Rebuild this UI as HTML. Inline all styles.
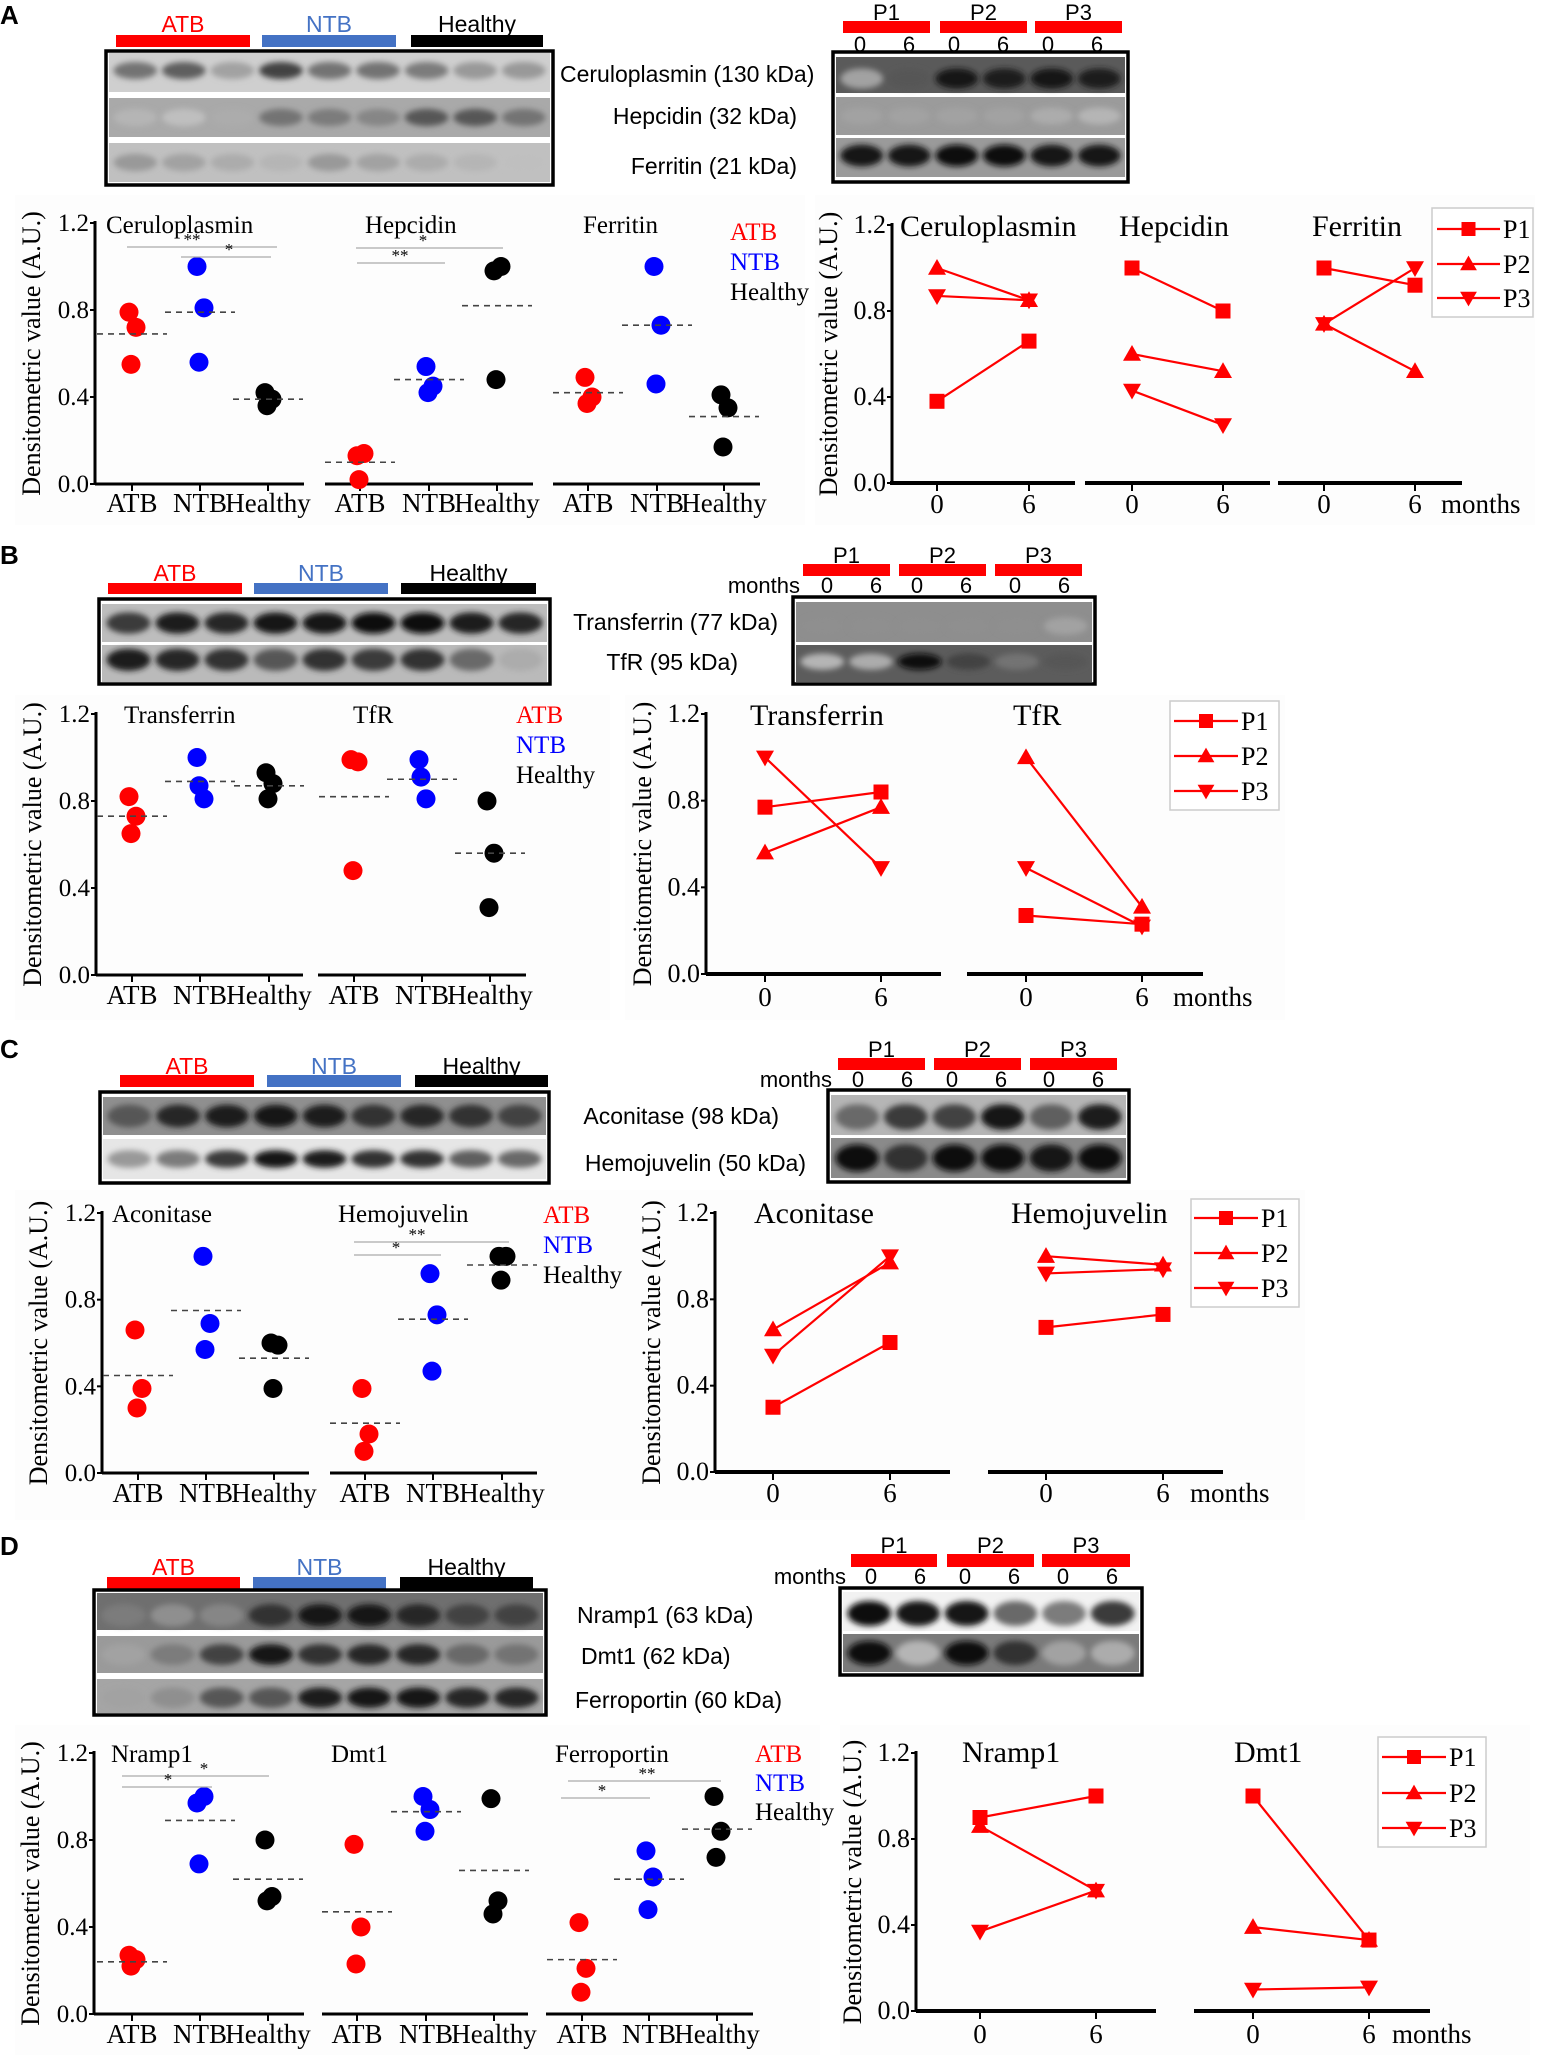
<!DOCTYPE html>
<html><head><meta charset="utf-8"><style>
html,body{margin:0;padding:0;background:#fff;}
svg{display:block;}
</style></head><body>
<svg id="fig" width="1550" height="2061" viewBox="0 0 1550 2061" xmlns="http://www.w3.org/2000/svg">
<defs><filter id="blur" x="-30%" y="-60%" width="160%" height="220%"><feGaussianBlur stdDeviation="3"/></filter></defs>
</svg>
<script>
// ---------- DATA ----------
const groups = ['ATB','NTB','Healthy'];
const yTicks = [0,0.4,0.8,1.2];
const yTickLabels = ['0.0','0.4','0.8','1.2'];
const xMonths = ['0','6'];
const patients = ['P1','P2','P3'];
// scatter values: [ATB],[NTB],[Healthy]
const ceruloVals = [[0.79,0.72,0.55],[1.0,0.81,0.56],[0.42,0.39,0.36]];
const ceruloMeans = [0.69,0.79,0.39];
const hepcidinVals = [[0.13,0.14,0.02],[0.54,0.45,0.42],[0.98,1.0,0.48]];
const hepcidinMeans = [0.10,0.48,0.82];
const ferritinVals = [[0.49,0.40,0.37],[1.0,0.73,0.46],[0.41,0.35,0.17]];
const ferritinMeans = [0.42,0.73,0.31];
const transferrinVals = [[0.82,0.73,0.65],[1.0,0.81,0.87],[0.93,0.88,0.81]];
const transferrinMeans = [0.73,0.89,0.87];
const tfrVals = [[0.99,0.98,0.48],[0.99,0.81,0.91],[0.80,0.56,0.31]];
const tfrMeans = [0.82,0.90,0.56];
const aconitaseVals = [[0.66,0.39,0.30],[1.0,0.69,0.57],[0.60,0.59,0.39]];
const aconitaseMeans = [0.45,0.75,0.53];
const hemojuvelinVals = [[0.39,0.18,0.10],[0.92,0.73,0.47],[1.0,1.0,0.89]];
const hemojuvelinMeans = [0.23,0.71,0.96];
const nramp1Vals = [[0.27,0.25,0.22],[0.97,1.0,0.69],[0.80,0.54,0.52]];
const nramp1Means = [0.24,0.89,0.62];
const dmt1Vals = [[0.78,0.40,0.23],[1.0,0.94,0.84],[0.99,0.52,0.46]];
const dmt1Means = [0.47,0.93,0.66];
const ferroportinVals = [[0.42,0.21,0.10],[0.75,0.63,0.48],[1.0,0.84,0.72]];
const ferroportinMeans = [0.25,0.62,0.85];
// paired values [P1],[P2],[P3] at 0 and 6 months
const ceruloPaired = [[0.38,0.66],[1.0,0.85],[0.87,0.85]];
const hepcidinPaired = [[1.0,0.80],[0.60,0.52],[0.43,0.27]];
const ferritinPaired = [[1.0,0.92],[0.74,0.52],[0.74,1.0]];
const transferrinPaired = [[0.77,0.84],[0.56,0.77],[1.0,0.49]];
const tfrPaired = [[0.27,0.23],[1.0,0.31],[0.49,0.22]];
const aconitasePaired = [[0.30,0.60],[0.66,0.97],[0.54,1.0]];
const hemojuvelinPaired = [[0.67,0.73],[1.0,0.96],[0.92,0.94]];
const nramp1Paired = [[0.90,1.0],[0.86,0.56],[0.37,0.56]];
const dmt1Paired = [[1.0,0.33],[0.39,0.33],[0.10,0.11]];

// ---------- helpers ----------
const NS='http://www.w3.org/2000/svg';
const svg=document.getElementById('fig');
function mk(tag,attrs,parent){const e=document.createElementNS(NS,tag);for(const k in attrs)e.setAttribute(k,attrs[k]);(parent||svg).appendChild(e);return e;}
function txt(x,y,s,size,opts,parent){opts=opts||{};const t=mk('text',{x:x,y:y,'font-size':size,fill:opts.fill||'#000','text-anchor':opts.anchor||'start','font-family':opts.sans?'"Liberation Sans",sans-serif':'"Liberation Serif",serif'},parent);if(opts.weight)t.setAttribute('font-weight',opts.weight);if(opts.transform)t.setAttribute('transform',opts.transform);t.textContent=s;return t;}
const gColors=['#ff0000','#0000ff','#000000'];
const hdrColors=['#ff0000','#4472c4','#000000'];
const hdrText=['#ff0000','#4472c4','#000000'];

function marker(g,type,x,y,s){
  let e;
  if(type===0) e=mk('rect',{x:x-s/2,y:y-s/2,width:s,height:s,fill:'#ff0000'},g);
  else if(type===1) e=mk('polygon',{points:`${x},${y-s*0.6} ${x+s*0.6},${y+s*0.45} ${x-s*0.6},${y+s*0.45}`,fill:'#ff0000'},g);
  else e=mk('polygon',{points:`${x},${y+s*0.6} ${x+s*0.6},${y-s*0.45} ${x-s*0.6},${y-s*0.45}`,fill:'#ff0000'},g);
  return e;
}

function yAxis(g,ax,y0,y12,name,big){
  const ys=v=>y0-v/1.2*(y0-y12);
  const l=mk('line',{x1:ax,y1:y12-2,x2:ax,y2:y0+1,stroke:'#000','stroke-width':3},g);
  
  
  yTicks.forEach((v,i)=>{
    mk('line',{x1:ax-5,y1:ys(v),x2:ax,y2:ys(v),stroke:'#000','stroke-width':2},g);
    const t=txt(ax-6,ys(v)+8,yTickLabels[i],big?26:25,{anchor:'end'},g);
    
    
  });
  const yt=txt(0,0,'Densitometric value (A.U.)',26,{anchor:'middle',transform:`translate(${ax-55},${(y0+y12)/2}) rotate(-90)`},g);
  
  
  return ys;
}

function scatterPanel(cfg){
  const g=mk('g',{});
  
  
  mk('rect',{x:cfg.bg[0],y:cfg.bg[1],width:cfg.bg[2],height:cfg.bg[3],fill:'#fdfdfd'},g);
  const ys=yAxis(g,cfg.ax,cfg.y0,cfg.y12,cfg.name,false);
  cfg.segs.forEach((sg,si)=>{
    const xa=mk('line',{x1:sg.x1,y1:cfg.y0,x2:sg.x2,y2:cfg.y0,stroke:'#000','stroke-width':3},g);
    
    
    const tt=txt(sg.tx,cfg.titleY,sg.title,25,{},g);
    
    
    const vals=sg.vals, means=sg.means;
    groups.forEach((gr,gi)=>{
      const cx=sg.ticks[gi];
      mk('line',{x1:cx,y1:cfg.y0,x2:cx,y2:cfg.y0+7,stroke:'#000','stroke-width':2},g);
      const xl=txt(cx,cfg.xlabY,gr,27,{anchor:'middle'},g);
      
      
      const jit=[-3,4,-1];
      vals[gi].forEach((v,k)=>{
        const d=mk('circle',{cx:cx+jit[k],cy:ys(v),r:9.5,fill:gColors[gi]},g);
        
        
      });
      const m=mk('line',{x1:cx-35,y1:ys(means[gi]),x2:cx+35,y2:ys(means[gi]),stroke:'#444','stroke-width':1.6,'stroke-dasharray':'6,5'},g);
      
      
    });
    (sg.sig||[]).forEach(s=>{
      mk('line',{x1:s[0],y1:s[2],x2:s[1],y2:s[2],stroke:'#aaa','stroke-width':1.3},g);
      txt(s[3],s[2]-2,s[4],17,{anchor:'middle'},g);
    });
  });
  groups.forEach((gr,gi)=>{
    const t=txt(cfg.legX,cfg.legY[gi],gr,25,{fill:gColors[gi]},g);
    
    
  });
}

function linePanel(cfg){
  const g=mk('g',{});
  
  
  mk('rect',{x:cfg.bg[0],y:cfg.bg[1],width:cfg.bg[2],height:cfg.bg[3],fill:'#fdfdfd'},g);
  const ys=yAxis(g,cfg.ax,cfg.y0,cfg.y12,cfg.name,true);
  cfg.segs.forEach(sg=>{
    const xa=mk('line',{x1:sg.x1,y1:cfg.y0,x2:sg.x2,y2:cfg.y0,stroke:'#000','stroke-width':4},g);
    
    
    const tt=txt(sg.tx,cfg.titleY,sg.title,30,{},g);
    
    
    xMonths.forEach((m,i)=>{
      mk('line',{x1:sg.ticks[i],y1:cfg.y0,x2:sg.ticks[i],y2:cfg.y0+8,stroke:'#000','stroke-width':2},g);
      const xl=txt(sg.ticks[i],cfg.xlabY,m,27,{anchor:'middle'},g);
      
      
    });
    sg.vals.forEach((pv,pi)=>{
      const ln=mk('line',{x1:sg.ticks[0],y1:ys(pv[0]),x2:sg.ticks[1],y2:ys(pv[1]),stroke:'#ff0000','stroke-width':2.2},g);
      
      
      pv.forEach((v,i)=>{
        const mm=marker(g,pi,sg.ticks[i],ys(v),15);
        
        
      });
    });
  });
  const mo=txt(cfg.monthsX,cfg.xlabY,'months',27,{},g);
  
  
  const L=cfg.leg;
  const lb=mk('rect',{x:L.x,y:L.y,width:L.w,height:L.h,fill:'#fff',stroke:'#ccc','stroke-width':1.5},g);
  
  
  patients.forEach((p,pi)=>{
    mk('line',{x1:L.lx1,y1:L.ys[pi],x2:L.lx2,y2:L.ys[pi],stroke:'#ff0000','stroke-width':2.2},g);
    marker(g,pi,(L.lx1+L.lx2)/2,L.ys[pi],14);
    const t=txt(L.lx2+3,L.ys[pi]+9,p,26,{},g);
    
    
  });
}

// blot image: strips with bands
function blot(name,x,y,w,h,strips,nLanes){
  const g=mk('g',{});
  
  
  mk('rect',{x:x,y:y,width:w,height:h,fill:'#fff',stroke:'#000','stroke-width':3.5},g);
  strips.forEach(s=>{
    mk('rect',{x:x+3,y:s.y,width:w-6,height:s.h,fill:s.bg},g);
    const lw=(w-10)/nLanes;
    s.b.forEach((v,i)=>{
      if(v<=0)return;
      const c=Math.round(200-190*v);
      mk('ellipse',{cx:x+5+lw*(i+0.5),cy:s.y+s.h*(s.c||0.5),rx:lw*0.45,ry:s.h*(s.ry||0.22),fill:`rgb(${c},${c},${c})`,filter:'url(#blur)'},g);
    });
  });
}
function groupHeader(xs,y,h,labelY){
  groups.forEach((gr,i)=>{
    const r=mk('rect',{x:xs[i][0],y:y,width:xs[i][1]-xs[i][0],height:h,fill:hdrColors[i]});
    
    
    const t=txt((xs[i][0]+xs[i][1])/2,labelY,gr,23,{anchor:'middle',fill:hdrText[i],sans:true});
    
    
  });
}
function patientHeader(xs,y,h,nums,numY,monthsX){
  patients.forEach((p,i)=>{
    const r=mk('rect',{x:xs[i][0],y:y,width:xs[i][1]-xs[i][0],height:h,fill:'#ff0000'});
    
    
    const t=txt((xs[i][0]+xs[i][1])/2,y-1,p,22,{anchor:'middle',sans:true});
    
    
  });
  nums.forEach((nx,i)=>{txt(nx,numY,xMonths[i%2],22,{anchor:'middle',sans:true});});
  if(monthsX){const m=txt(monthsX,numY,'months',22,{anchor:'end',sans:true});}
}
function blotLabel(x,y,s,anchor){const t=txt(x,y,s,23,{anchor:anchor||'start',sans:true});}
function panelLetter(s,y){const t=txt(0,y,s,26,{sans:true,weight:'bold'});}

// ========== PANEL A ==========
panelLetter('A',24);
groupHeader([[116,250],[262,396],[411,543]],35,12,32);
blot('blot-a-left',106,51,447,134,[
 {y:53,h:39,bg:'#cfcfcf',b:[0.45,0.55,0.2,0.7,0.45,0.45,0.4,0.25,0.25],c:0.45},
 {y:98,h:39,bg:'#a9a9a9',b:[0.1,0.05,0.15,0.45,0.4,0.35,0.6,0.6,0.45],c:0.5},
 {y:143,h:39,bg:'#c0c0c0',b:[0.25,0.2,0.15,0.1,0.25,0.2,0.15,0.1,0.05]}],9);
blotLabel(560,82,'Ceruloplasmin (130 kDa)');
blotLabel(797,124,'Hepcidin (32 kDa)','end');
blotLabel(797,174,'Ferritin (21 kDa)','end');
patientHeader([[843,930],[940,1027],[1035,1122]],21,12,[860,909,954,1003,1048,1097],52);
blot('blot-a-right',833,52,295,130,[
 {y:57,h:36,bg:'#5a5a5a',b:[0.2,0.6,0.95,0.9,0.95,0.9],c:0.6,ry:0.28},
 {y:97,h:38,bg:'#9b9b9b',b:[0.2,0.2,0.2,0.2,0.15,0.1]},
 {y:138,h:39,bg:'#9a9a9a',b:[0.95,0.95,1,1,0.95,0.95],c:0.45,ry:0.28}],6);
scatterPanel({name:'panel-a-scatter',bg:[15,195,790,330],ax:95,y0:484,y12:223,titleY:233,xlabY:512,legX:730,legY:[240,270,300],
 segs:[{x1:95,x2:304,ticks:[132,200,268],title:'Ceruloplasmin',tx:106,vals:ceruloVals,means:ceruloMeans,sig:[[127,277,247,192,'**'],[181,271,257,229,'*']]},
       {x1:325,x2:533,ticks:[360,429,497],title:'Hepcidin',tx:365,vals:hepcidinVals,means:hepcidinMeans,sig:[[356,503,248,423,'*'],[357,445,263,400,'**']]},
       {x1:553,x2:760,ticks:[588,657,724],title:'Ferritin',tx:583,vals:ferritinVals,means:ferritinMeans}]});
linePanel({name:'panel-a-paired',bg:[815,195,720,330],ax:892,y0:483,y12:225,titleY:236,xlabY:513,monthsX:1441,
 segs:[{x1:890,x2:1075,ticks:[937,1029],title:'Ceruloplasmin',tx:900,vals:ceruloPaired},
       {x1:1085,x2:1270,ticks:[1132,1223],title:'Hepcidin',tx:1119,vals:hepcidinPaired},
       {x1:1278,x2:1462,ticks:[1324,1415],title:'Ferritin',tx:1312,vals:ferritinPaired}],
 leg:{x:1432,y:208,w:101,h:109,lx1:1437,lx2:1500,ys:[229,264,298]}});

// ========== PANEL B ==========
panelLetter('B',564);
groupHeader([[108,242],[254,388],[401,536]],583,11,581);
blot('blot-b-left',99,599,451,85,[
 {y:604,h:38,bg:'#bdbdbd',b:[0.75,0.9,0.85,0.95,0.95,1,1,0.9,0.85],c:0.5,ry:0.28},
 {y:645,h:37,bg:'#bababa',b:[0.9,0.85,0.8,0.6,0.8,0.75,0.8,0.5,0.15],c:0.4,ry:0.3}],9);
blotLabel(778,630,'Transferrin (77 kDa)','end');
blotLabel(738,670,'TfR (95 kDa)','end');
patientHeader([[803,890],[899,986],[995,1082]],564,12,[827,876,917,966,1015,1064],593,800);
blot('blot-b-right',793,597,302,87,[
 {y:602,h:40,bg:'#8e8e8e',b:[0.3,0.3,0.3,0.3,0.3,0.2],c:0.6},
 {y:645,h:37,bg:'#5c5c5c',b:[0.1,0.15,1,0.7,0.45,0.6],c:0.45}],6);
scatterPanel({name:'panel-b-scatter',bg:[15,695,595,325],ax:96,y0:975,y12:714,titleY:723,xlabY:1004,legX:516,legY:[723,753,783],
 segs:[{x1:96,x2:303,ticks:[132,200,269],title:'Transferrin',tx:124,vals:transferrinVals,means:transferrinMeans},
       {x1:318,x2:526,ticks:[354,422,490],title:'TfR',tx:353,vals:tfrVals,means:tfrMeans}]});
linePanel({name:'panel-b-paired',bg:[625,695,660,325],ax:706,y0:974,y12:714,titleY:725,xlabY:1006,monthsX:1173,
 segs:[{x1:706,x2:941,ticks:[765,881],title:'Transferrin',tx:750,vals:transferrinPaired},
       {x1:967,x2:1203,ticks:[1026,1142],title:'TfR',tx:1013,vals:tfrPaired}],
 leg:{x:1170,y:701,w:109,h:109,lx1:1174,lx2:1238,ys:[721,756,791]}});

// ========== PANEL C ==========
panelLetter('C',1058);
groupHeader([[120,254],[267,401],[415,548]],1075,12,1074);
blot('blot-c-left',100,1092,449,91,[
 {y:1097,h:38,bg:'#8f8f8f',b:[0.6,0.85,0.9,0.95,0.9,0.8,0.85,0.8,0.7],c:0.5,ry:0.3},
 {y:1139,h:40,bg:'#e6e6e6',b:[0.25,0.4,0.75,0.95,0.9,0.8,0.8,0.55,0.5],c:0.5,ry:0.22}],9);
blotLabel(779,1124,'Aconitase (98 kDa)','end');
blotLabel(806,1171,'Hemojuvelin (50 kDa)','end');
patientHeader([[838,925],[934,1021],[1030,1117]],1058,12,[858,907,952,1001,1049,1098],1087,832);
blot('blot-c-right',828,1090,301,92,[
 {y:1095,h:40,bg:'#b5b5b5',b:[0.5,0.75,0.7,0.95,0.55,0.9],c:0.55,ry:0.32},
 {y:1138,h:40,bg:'#8a8a8a',b:[1,0.8,1,1,0.95,1],c:0.5,ry:0.34}],6);
scatterPanel({name:'panel-c-scatter',bg:[15,1190,635,330],ax:102,y0:1473,y12:1213,titleY:1222,xlabY:1502,legX:543,legY:[1223,1253,1283],
 segs:[{x1:102,x2:309,ticks:[138,206,274],title:'Aconitase',tx:112,vals:aconitaseVals,means:aconitaseMeans},
       {x1:330,x2:537,ticks:[365,433,502],title:'Hemojuvelin',tx:338,vals:hemojuvelinVals,means:hemojuvelinMeans,sig:[[354,509,1242,417,'**'],[354,441,1255,396,'*']]}]});
linePanel({name:'panel-c-paired',bg:[635,1190,670,330],ax:715,y0:1472,y12:1213,titleY:1223,xlabY:1502,monthsX:1190,
 segs:[{x1:715,x2:950,ticks:[773,890],title:'Aconitase',tx:754,vals:aconitasePaired},
       {x1:988,x2:1223,ticks:[1046,1163],title:'Hemojuvelin',tx:1011,vals:hemojuvelinPaired}],
 leg:{x:1191,y:1199,w:108,h:108,lx1:1194,lx2:1258,ys:[1218,1253,1288]}});

// ========== PANEL D ==========
panelLetter('D',1555);
groupHeader([[107,240],[253,386],[400,533]],1577,13,1575);
blot('blot-d-left',94,1590,452,125,[
 {y:1593,h:37,bg:'#6f6f6f',b:[0.4,0.3,0.35,0.8,0.95,0.95,0.85,0.7,0.7],c:0.6,ry:0.3},
 {y:1636,h:37,bg:'#9a9a9a',b:[0.2,0.4,0.7,0.95,0.8,0.85,0.85,0.5,0.45],c:0.5,ry:0.28},
 {y:1679,h:34,bg:'#a5a5a5',b:[0.2,0.3,0.6,0.6,0.9,0.95,0.95,0.85,0.85],c:0.55,ry:0.3}],9);
blotLabel(577,1623,'Nramp1 (63 kDa)');
blotLabel(581,1664,'Dmt1 (62 kDa)');
blotLabel(575,1708,'Ferroportin (60 kDa)');
patientHeader([[851,937],[947,1034],[1042,1130]],1554,13,[871,920,965,1014,1063,1112],1584,846);
blot('blot-d-right',840,1588,302,87,[
 {y:1592,h:39,bg:'#f2f2f2',b:[1,0.95,0.95,0.5,0.4,0.75],c:0.55,ry:0.32},
 {y:1634,h:38,bg:'#7a7a7a',b:[1,0.1,1,0.8,0.2,0.15],c:0.5,ry:0.32}],6);
scatterPanel({name:'panel-d-scatter',bg:[15,1725,805,330],ax:94,y0:2014,y12:1753,titleY:1762,xlabY:2043,legX:755,legY:[1762,1791,1820],
 segs:[{x1:94,x2:304,ticks:[132,200,268],title:'Nramp1',tx:111,vals:nramp1Vals,means:nramp1Means,sig:[[122,269,1776,204,'*'],[122,212,1787,168,'*']]},
       {x1:322,x2:528,ticks:[357,426,494],title:'Dmt1',tx:331,vals:dmt1Vals,means:dmt1Means},
       {x1:546,x2:753,ticks:[582,649,717],title:'Ferroportin',tx:555,vals:ferroportinVals,means:ferroportinMeans,sig:[[568,721,1781,647,'**'],[561,650,1798,602,'*']]}]});
linePanel({name:'panel-d-paired',bg:[840,1725,690,330],ax:916,y0:2011,y12:1753,titleY:1762,xlabY:2043,monthsX:1392,
 segs:[{x1:916,x2:1156,ticks:[980,1096],title:'Nramp1',tx:962,vals:nramp1Paired},
       {x1:1194,x2:1430,ticks:[1253,1369],title:'Dmt1',tx:1234,vals:dmt1Paired}],
 leg:{x:1378,y:1737,w:108,h:110,lx1:1382,lx2:1446,ys:[1757,1793,1828]}});
</script>
</body></html>
